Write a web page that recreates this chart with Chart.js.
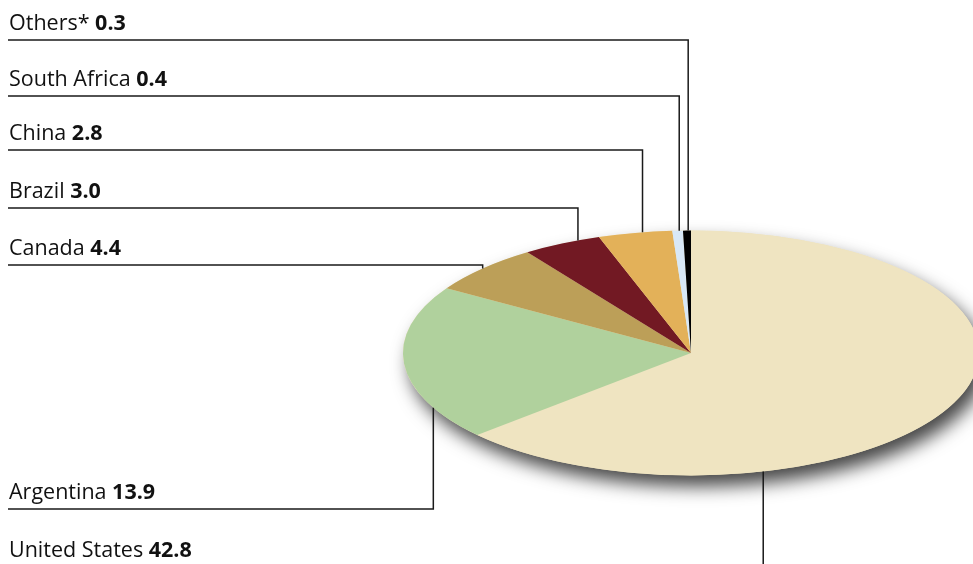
<!DOCTYPE html>
<html>
<head>
<meta charset="utf-8">
<script src="https://cdn.jsdelivr.net/npm/chart.js@4/dist/chart.umd.min.js"></script>
<style>
  html, body { margin: 0; padding: 0; background: #fff; overflow: hidden; }
  #wrap { position: relative; width: 973px; height: 564px; overflow: hidden; }
  canvas { position: absolute; left: 0; top: 0; }
</style>
</head>
<body>
<div id="wrap"><canvas id="pieChart" width="1000" height="660"></canvas></div>
<script>
// Data (clockwise from 12 o'clock)
const countries = ['United States', 'Argentina', 'Canada', 'Brazil', 'China', 'South Africa', 'Others*'];
const shares = [42.8, 13.9, 4.4, 3.0, 2.8, 0.4, 0.3];
const valueLabels = ['42.8', '13.9', '4.4', '3.0', '2.8', '0.4', '0.3'];
const colors = ['#efe4c1', '#b0d19d', '#bc9f58', '#721923', '#e3b159', '#d8e8f6', '#000000'];

// label layout: y of the underline, and where along the slice the leader meets the rim
const labelLineY = [567, 509, 265, 208, 150, 96, 40];
const leaderAt = [0.726, 0.21, 0.5, 0.72, 0.6, 0.65, 0.65];

const squash = 0.425; // vertical flattening of the pie

const flatPie = {
  id: 'flatPie',
  beforeDatasetsDraw(chart) {
    const arc = chart.getDatasetMeta(0).data[0];
    const cx = arc.x, cy = arc.y, r = arc.outerRadius;
    const ctx = chart.ctx;
    ctx.save();
    // drop shadow under the whole pie
    ctx.save();
    ctx.shadowColor = 'rgba(0,0,0,0.72)';
    ctx.shadowBlur = 18;
    ctx.shadowOffsetX = 7;
    ctx.shadowOffsetY = 11;
    ctx.fillStyle = colors[0];
    ctx.beginPath();
    ctx.ellipse(cx, cy, r, r * squash, 0, 0, Math.PI * 2);
    ctx.fill();
    ctx.restore();
    ctx.translate(cx, cy);
    ctx.scale(1, squash);
    ctx.translate(-cx, -cy);
  },
  afterDatasetsDraw(chart) {
    chart.ctx.restore();
  },
  afterDraw(chart) {
    const ctx = chart.ctx;
    const arcs = chart.getDatasetMeta(0).data;
    ctx.save();
    ctx.strokeStyle = '#1a1a1a';
    ctx.lineWidth = 1.5;
    ctx.fillStyle = '#111';
    ctx.textBaseline = 'alphabetic';
    arcs.forEach((a, i) => {
      const ang = a.startAngle + leaderAt[i] * (a.endAngle - a.startAngle);
      const px = a.x + a.outerRadius * Math.cos(ang);
      const py = a.y + a.outerRadius * squash * Math.sin(ang);
      const ly = labelLineY[i];
      ctx.beginPath();
      ctx.moveTo(8, ly);
      ctx.lineTo(px, ly);
      ctx.lineTo(px, py);
      ctx.stroke();
      ctx.font = '21.5px "Open Sans", sans-serif';
      const name = countries[i] + ' ';
      ctx.fillText(name, 9, ly - 10);
      const w = ctx.measureText(name).width;
      ctx.font = 'bold 21.5px "Open Sans", sans-serif';
      ctx.fillText(valueLabels[i], 9 + w, ly - 10);
    });
    ctx.restore();
  }
};

new Chart(document.getElementById('pieChart'), {
  type: 'pie',
  data: {
    labels: countries,
    datasets: [{
      data: shares,
      backgroundColor: colors,
      borderWidth: 0
    }]
  },
  options: {
    responsive: false,
    animation: false,
    layout: { padding: { left: 403, right: 21, top: 65, bottom: 19 } },
    plugins: {
      legend: { display: false },
      tooltip: { enabled: false }
    }
  },
  plugins: [flatPie]
});
</script>
</body>
</html>
